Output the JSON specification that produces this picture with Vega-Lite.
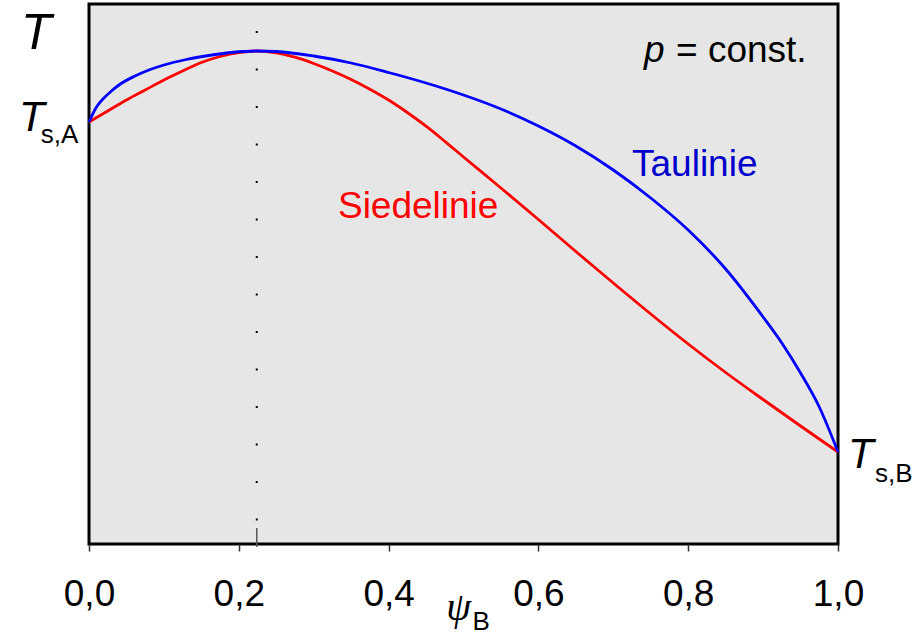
{
  "$schema": "https://vega.github.io/schema/vega-lite/v6.json",
  "width": 749,
  "height": 540,
  "autosize": {"type": "none"},
  "padding": {"left": 89, "top": 4, "right": 76, "bottom": 93},
  "background": "white",
  "config": {
    "view": {"fill": "#e6e6e6", "stroke": "black", "strokeWidth": 3},
    "font": "Liberation Sans",
    "text": {"font": "Liberation Sans", "align": "left", "baseline": "alphabetic"}
  },
  "datasets": {
    "curves": [
      {"series": "Siedelinie", "psi": 0.0, "T": 422},
      {"series": "Siedelinie", "psi": 0.025, "T": 433},
      {"series": "Siedelinie", "psi": 0.05, "T": 444},
      {"series": "Siedelinie", "psi": 0.075, "T": 454},
      {"series": "Siedelinie", "psi": 0.1, "T": 464},
      {"series": "Siedelinie", "psi": 0.125, "T": 473},
      {"series": "Siedelinie", "psi": 0.15, "T": 481.5},
      {"series": "Siedelinie", "psi": 0.175, "T": 487.5},
      {"series": "Siedelinie", "psi": 0.2, "T": 491.5},
      {"series": "Siedelinie", "psi": 0.224, "T": 493},
      {"series": "Siedelinie", "psi": 0.25, "T": 491.2},
      {"series": "Siedelinie", "psi": 0.275, "T": 486.8},
      {"series": "Siedelinie", "psi": 0.3, "T": 480.5},
      {"series": "Siedelinie", "psi": 0.325, "T": 473},
      {"series": "Siedelinie", "psi": 0.35, "T": 464.5},
      {"series": "Siedelinie", "psi": 0.375, "T": 454.8},
      {"series": "Siedelinie", "psi": 0.4, "T": 444},
      {"series": "Siedelinie", "psi": 0.425, "T": 431.5},
      {"series": "Siedelinie", "psi": 0.45, "T": 417.8},
      {"series": "Siedelinie", "psi": 0.475, "T": 402.7},
      {"series": "Siedelinie", "psi": 0.5, "T": 387},
      {"series": "Siedelinie", "psi": 0.55, "T": 356},
      {"series": "Siedelinie", "psi": 0.6, "T": 324.5},
      {"series": "Siedelinie", "psi": 0.65, "T": 292.5},
      {"series": "Siedelinie", "psi": 0.7, "T": 261},
      {"series": "Siedelinie", "psi": 0.75, "T": 230},
      {"series": "Siedelinie", "psi": 0.8, "T": 200},
      {"series": "Siedelinie", "psi": 0.85, "T": 171.5},
      {"series": "Siedelinie", "psi": 0.9, "T": 144.5},
      {"series": "Siedelinie", "psi": 0.95, "T": 118},
      {"series": "Siedelinie", "psi": 1.0, "T": 92},
      {"series": "Taulinie", "psi": 0.0, "T": 422},
      {"series": "Taulinie", "psi": 0.01, "T": 437},
      {"series": "Taulinie", "psi": 0.02, "T": 446},
      {"series": "Taulinie", "psi": 0.03, "T": 453},
      {"series": "Taulinie", "psi": 0.04, "T": 459},
      {"series": "Taulinie", "psi": 0.06, "T": 467.5},
      {"series": "Taulinie", "psi": 0.08, "T": 474},
      {"series": "Taulinie", "psi": 0.1, "T": 479},
      {"series": "Taulinie", "psi": 0.13, "T": 484.5},
      {"series": "Taulinie", "psi": 0.16, "T": 488.5},
      {"series": "Taulinie", "psi": 0.19, "T": 491.5},
      {"series": "Taulinie", "psi": 0.224, "T": 493},
      {"series": "Taulinie", "psi": 0.25, "T": 492.5},
      {"series": "Taulinie", "psi": 0.3, "T": 488},
      {"series": "Taulinie", "psi": 0.35, "T": 481},
      {"series": "Taulinie", "psi": 0.4, "T": 471.5},
      {"series": "Taulinie", "psi": 0.45, "T": 461},
      {"series": "Taulinie", "psi": 0.5, "T": 449},
      {"series": "Taulinie", "psi": 0.55, "T": 435},
      {"series": "Taulinie", "psi": 0.6, "T": 418},
      {"series": "Taulinie", "psi": 0.65, "T": 398},
      {"series": "Taulinie", "psi": 0.7, "T": 374},
      {"series": "Taulinie", "psi": 0.75, "T": 346},
      {"series": "Taulinie", "psi": 0.8, "T": 314},
      {"series": "Taulinie", "psi": 0.85, "T": 275},
      {"series": "Taulinie", "psi": 0.9, "T": 227},
      {"series": "Taulinie", "psi": 0.925, "T": 201},
      {"series": "Taulinie", "psi": 0.95, "T": 171},
      {"series": "Taulinie", "psi": 0.975, "T": 137},
      {"series": "Taulinie", "psi": 1.0, "T": 92}
    ],
    "marker": [{"psi": 0.224, "top": 540, "bottom": 0, "tickTop": 16, "tickBottom": -3}],
    "labels": [
      {"role": "taulinie", "text": "Taulinie", "psi": 0.725, "T": 368},
      {"role": "siedelinie", "text": "Siedelinie", "psi": 0.3324, "T": 326},
      {"role": "const", "text": "= const.", "psi": 0.7837, "T": 482},
      {"role": "p", "text": "p", "psi": 0.741, "T": 482},
      {"role": "bigT", "text": "T", "psi": -0.0908, "T": 495},
      {"role": "T", "text": "T", "psi": -0.0935, "T": 413},
      {"role": "T", "text": "T", "psi": 1.0134, "T": 76},
      {"role": "sub", "text": "s,A", "psi": -0.0645, "T": 401},
      {"role": "sub", "text": "s,B", "psi": 1.0494, "T": 62},
      {"role": "sub", "text": "B", "psi": 0.512, "T": -86},
      {"role": "psi", "text": "ψ", "psi": 0.477, "T": -76}
    ]
  },
  "layer": [
    {
      "data": {"name": "marker"},
      "mark": {"type": "rule", "color": "black", "strokeWidth": 2, "strokeDash": [2, 35.5], "strokeDashOffset": 10.5},
      "encoding": {
        "x": {
          "field": "psi", "type": "quantitative",
          "scale": {"domain": [0, 1], "nice": false, "zero": false},
          "axis": {
            "values": [0, 0.2, 0.4, 0.6, 0.8, 1.0],
            "labelExpr": "replace(format(datum.value, '.1f'), '.', ',')",
            "labelFontSize": 37,
            "labelFont": "Liberation Sans",
            "labelColor": "black",
            "labelFlush": false,
            "labelOverlap": false,
            "labelPadding": 25,
            "tickSize": 7,
            "tickColor": "#333333",
            "tickWidth": 1.5,
            "domain": false,
            "grid": false,
            "title": null
          }
        },
        "y": {"field": "top", "type": "quantitative", "scale": {"domain": [0, 540], "nice": false, "zero": false}, "axis": null},
        "y2": {"field": "bottom"}
      }
    },
    {
      "data": {"name": "marker"},
      "mark": {"type": "rule", "color": "#555555", "strokeWidth": 1.5},
      "encoding": {
        "x": {"field": "psi", "type": "quantitative"},
        "y": {"field": "tickTop", "type": "quantitative"},
        "y2": {"field": "tickBottom"}
      }
    },
    {
      "data": {"name": "curves"},
      "mark": {"type": "line", "interpolate": "monotone", "strokeWidth": 2.8},
      "encoding": {
        "x": {"field": "psi", "type": "quantitative"},
        "y": {"field": "T", "type": "quantitative"},
        "color": {"field": "series", "type": "nominal", "scale": {"domain": ["Siedelinie", "Taulinie"], "range": ["#ff0000", "#0000ff"]}, "legend": null},
        "order": {"field": "psi", "type": "quantitative"}
      }
    },
    {
      "data": {"name": "labels"},
      "transform": [{"filter": "datum.role === 'taulinie'"}],
      "mark": {"type": "text", "fontSize": 37, "color": "#0000cc"},
      "encoding": {"x": {"field": "psi", "type": "quantitative"}, "y": {"field": "T", "type": "quantitative"}, "text": {"field": "text"}}
    },
    {
      "data": {"name": "labels"},
      "transform": [{"filter": "datum.role === 'siedelinie'"}],
      "mark": {"type": "text", "fontSize": 37, "color": "#ff0000"},
      "encoding": {"x": {"field": "psi", "type": "quantitative"}, "y": {"field": "T", "type": "quantitative"}, "text": {"field": "text"}}
    },
    {
      "data": {"name": "labels"},
      "transform": [{"filter": "datum.role === 'const'"}],
      "mark": {"type": "text", "fontSize": 37, "color": "black"},
      "encoding": {"x": {"field": "psi", "type": "quantitative"}, "y": {"field": "T", "type": "quantitative"}, "text": {"field": "text"}}
    },
    {
      "data": {"name": "labels"},
      "transform": [{"filter": "datum.role === 'p'"}],
      "mark": {"type": "text", "fontSize": 37, "fontStyle": "italic", "color": "black"},
      "encoding": {"x": {"field": "psi", "type": "quantitative"}, "y": {"field": "T", "type": "quantitative"}, "text": {"field": "text"}}
    },
    {
      "data": {"name": "labels"},
      "transform": [{"filter": "datum.role === 'bigT'"}],
      "mark": {"type": "text", "fontSize": 50, "fontStyle": "italic", "color": "black"},
      "encoding": {"x": {"field": "psi", "type": "quantitative"}, "y": {"field": "T", "type": "quantitative"}, "text": {"field": "text"}}
    },
    {
      "data": {"name": "labels"},
      "transform": [{"filter": "datum.role === 'T'"}],
      "mark": {"type": "text", "fontSize": 42, "fontStyle": "italic", "color": "black"},
      "encoding": {"x": {"field": "psi", "type": "quantitative"}, "y": {"field": "T", "type": "quantitative"}, "text": {"field": "text"}}
    },
    {
      "data": {"name": "labels"},
      "transform": [{"filter": "datum.role === 'sub'"}],
      "mark": {"type": "text", "fontSize": 26, "color": "black"},
      "encoding": {"x": {"field": "psi", "type": "quantitative"}, "y": {"field": "T", "type": "quantitative"}, "text": {"field": "text"}}
    },
    {
      "data": {"name": "labels"},
      "transform": [{"filter": "datum.role === 'psi'"}],
      "mark": {"type": "text", "fontSize": 40, "fontStyle": "italic", "font": "Liberation Serif", "color": "black"},
      "encoding": {"x": {"field": "psi", "type": "quantitative"}, "y": {"field": "T", "type": "quantitative"}, "text": {"field": "text"}}
    }
  ]
}
